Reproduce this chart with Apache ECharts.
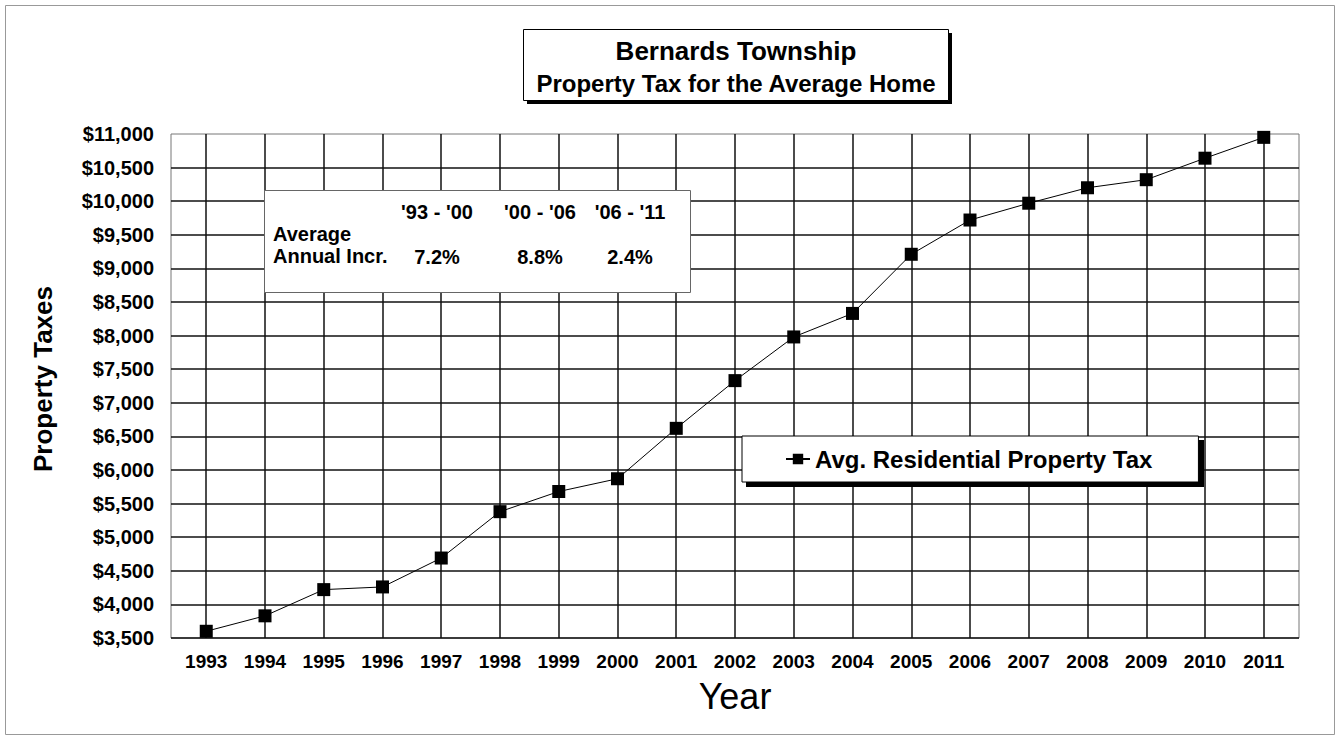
<!DOCTYPE html>
<html>
<head>
<meta charset="utf-8">
<title>Bernards Township - Property Tax for the Average Home</title>
<script src="https://cdn.jsdelivr.net/npm/echarts@6/dist/echarts.min.js"></script>
<style>
  html, body { margin: 0; padding: 0; background: #fff; }
  #chart { width: 1340px; height: 740px; }
</style>
</head>
<body>
<div id="chart"></div>
<script>
const years = [1993, 1994, 1995, 1996, 1997, 1998, 1999, 2000, 2001, 2002,
  2003, 2004, 2005, 2006, 2007, 2008, 2009, 2010, 2011];
const avgTax = [3600, 3830, 4220, 4260, 4690, 5380, 5680, 5870, 6620, 7330,
  7980, 8330, 9210, 9720, 9970, 10200, 10320, 10640, 10950];
const periods = ["'93 - '00", "'00 - '06", "'06 - '11"];
const avgIncrease = ['7.2%', '8.8%', '2.4%'];
const seriesName = 'Avg. Residential Property Tax';

const FONT = "'Liberation Sans', Arial, sans-serif";
const chart = echarts.init(document.getElementById('chart'), null, { renderer: 'svg' });

// annotation table ("Average Annual Incr." box)
const periodX = [437, 540, 630];
const tableText = [
  { type: 'text', left: 273, top: 224, style: { text: 'Average', font: 'bold 20px ' + FONT, fill: '#000' } },
  { type: 'text', left: 273, top: 246, style: { text: 'Annual Incr.', font: 'bold 20px ' + FONT, fill: '#000' } },
];
periods.forEach((p, i) => {
  tableText.push({
    type: 'text', x: periodX[i], y: 212,
    style: { text: p, font: 'bold 20px ' + FONT, fill: '#000', align: 'center', verticalAlign: 'middle' },
  });
  tableText.push({
    type: 'text', x: periodX[i], y: 257,
    style: { text: avgIncrease[i], font: 'bold 20px ' + FONT, fill: '#000', align: 'center', verticalAlign: 'middle' },
  });
});

const option = {
  backgroundColor: '#fff',
  animation: false,
  textStyle: { fontFamily: FONT, color: '#000' },
  grid: { left: 171, right: 41, top: 134, bottom: 102, show: true, borderColor: '#777', borderWidth: 1 },
  legend: {
    left: 742,
    top: 436,
    padding: [11, 46, 11, 43],
    itemWidth: 24,
    itemHeight: 13,
    backgroundColor: '#fff',
    borderColor: '#000',
    borderWidth: 1,
    textStyle: { fontSize: 24, fontWeight: 'bold', color: '#000', fontFamily: FONT },
    data: [seriesName],
  },
  xAxis: {
    type: 'value',
    min: 1992.4,
    max: 2011.6,
    minInterval: 1,
    maxInterval: 1,
    splitNumber: 19,
    name: 'Year',
    nameLocation: 'middle',
    nameGap: 40,
    nameTextStyle: { fontSize: 36, fontWeight: 'normal', color: '#000', fontFamily: FONT },
    axisLine: { show: false },
    axisTick: { show: false },
    axisLabel: {
      margin: 14,
      fontSize: 19,
      fontWeight: 'bold',
      color: '#000',
      showMinLabel: false,
      showMaxLabel: false,
      formatter: (v) => (Number.isInteger(v) ? String(v) : ''),
    },
    splitLine: { show: true, showMinLine: false, showMaxLine: false, lineStyle: { color: '#111', width: 1.5 } },
  },
  yAxis: {
    type: 'value',
    min: 3500,
    max: 11000,
    interval: 500,
    name: 'Property Taxes',
    nameLocation: 'middle',
    nameGap: 115,
    nameTextStyle: { fontSize: 26, fontWeight: 'bold', color: '#000', fontFamily: FONT, padding: [0, 0, 0, 14] },
    axisLine: { show: false },
    axisTick: { show: false },
    axisLabel: {
      margin: 17,
      fontSize: 20,
      fontWeight: 'bold',
      color: '#000',
      formatter: (v) => '$' + v.toLocaleString('en-US'),
    },
    splitLine: { show: true, showMaxLine: false, lineStyle: { color: '#111', width: 1.5 } },
  },
  series: [
    {
      name: seriesName,
      type: 'line',
      data: years.map((y, i) => [y, avgTax[i]]),
      symbol: 'rect',
      symbolSize: 13,
      itemStyle: { color: '#000' },
      lineStyle: { color: '#000', width: 1 },
      z: 5,
    },
  ],
  graphic: [
    // page frame
    { type: 'rect', z: 0, shape: { x: 5.5, y: 5.5, width: 1329, height: 729 },
      style: { fill: 'none', stroke: '#999', lineWidth: 1 } },
    // title box with drop shadow
    { type: 'rect', z: 20, shape: { x: 527, y: 33, width: 425, height: 71 }, style: { fill: '#000' } },
    { type: 'rect', z: 21, shape: { x: 523.5, y: 29.5, width: 425, height: 71 },
      style: { fill: '#fff', stroke: '#000', lineWidth: 1 } },
    { type: 'text', z: 22, x: 736, y: 51,
      style: { text: 'Bernards Township', font: 'bold 26px ' + FONT, fill: '#000', align: 'center', verticalAlign: 'middle' } },
    { type: 'text', z: 22, x: 736, y: 83,
      style: { text: 'Property Tax for the Average Home', font: 'bold 24px ' + FONT, fill: '#000', align: 'center', verticalAlign: 'middle' } },
    // legend shadow
    { type: 'rect', z: 3, shape: { x: 746, y: 440, width: 458, height: 47 }, style: { fill: '#000' } },
    // annotation box
    {
      type: 'group', z: 20,
      children: [
        { type: 'rect', z: 20, shape: { x: 264.5, y: 190.5, width: 426, height: 102 },
          style: { fill: '#fff', stroke: '#666', lineWidth: 1 } },
      ].concat(tableText.map((t) => Object.assign({ z: 21 }, t))),
    },
  ],
};

chart.setOption(option);
</script>
</body>
</html>
